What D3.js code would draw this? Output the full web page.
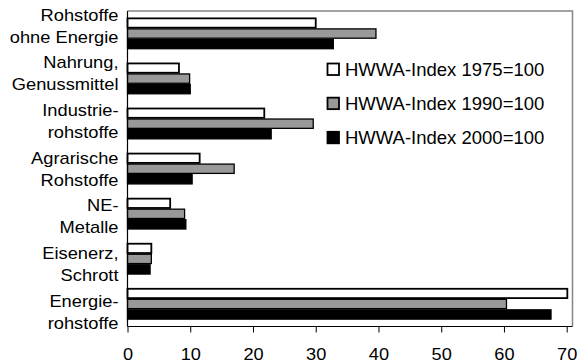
<!DOCTYPE html>
<html>
<head>
<meta charset="utf-8">
<script src="https://cdn.jsdelivr.net/npm/d3@7"></script>
<style>
  html, body { margin: 0; padding: 0; background: #fff; }
  svg { display: block; font-family: "Liberation Sans", Arial, Helvetica, sans-serif; }
</style>
</head>
<body>
<svg id="chart" width="577" height="363"></svg>
<script>
const categories = [
  ["Rohstoffe", "ohne Energie"],
  ["Nahrung,", "Genussmittel"],
  ["Industrie-", "rohstoffe"],
  ["Agrarische", "Rohstoffe"],
  ["NE-", "Metalle"],
  ["Eisenerz,", "Schrott"],
  ["Energie-", "rohstoffe"]
];
const seriesNames = ["HWWA-Index 1975=100", "HWWA-Index 1990=100", "HWWA-Index 2000=100"];
const index1975 = [30.0, 8.2, 21.8, 11.5, 6.8, 3.8, 70.1];
const index1990 = [39.6, 9.9, 29.6, 17.0, 9.1, 3.8, 60.4];
const index2000 = [32.8, 10.0, 22.9, 10.3, 9.3, 3.6, 67.5];
const xTicks = [0, 10, 20, 30, 40, 50, 60, 70];
const colors = ["#ffffff", "#999999", "#000000"];

(function () {
const series = [index1975, index1990, index2000];
const catKeys = categories.map(c => c.join(" "));

const svg = d3.select("#chart");
const pLeft = 127.5, pRight = 572.5, pTop = 11, pBottom = 326.5;

const x = d3.scaleLinear().domain([0, 70]).range([pLeft, 566.7]);
const y = d3.scaleBand().domain(catKeys).range([pTop, pBottom]).paddingInner(0.3).paddingOuter(0.15);
const ySub = d3.scaleBand().domain(d3.range(series.length)).range([0, y.bandwidth()]);
const labelY = d3.scalePoint().domain(catKeys).range([20.7, 306.7]);

// plot frame (top/right gray)
svg.append("path")
  .attr("d", `M${pLeft},${pTop}H${pRight}V${pBottom}`)
  .attr("fill", "none").attr("stroke", "#858585").attr("stroke-width", 1.5);

// bars
series.forEach((vals, si) => {
  svg.append("g").selectAll("rect")
    .data(vals)
    .join("rect")
    .attr("x", x(0))
    .attr("y", (d, i) => y(catKeys[i]) + ySub(si) + 0.6)
    .attr("width", d => x(d) - x(0))
    .attr("height", ySub.bandwidth() - 1.2)
    .attr("fill", colors[si])
    .attr("stroke", "#000")
    .attr("stroke-width", si === 0 ? 1.8 : 1.3);
});

// bottom axis
const xAxis = svg.append("g")
  .attr("transform", `translate(0,${pBottom})`)
  .call(d3.axisBottom(x).tickValues(xTicks).tickSize(6).tickPadding(15).tickSizeOuter(0));
xAxis.select(".domain").attr("d", `M${pLeft},0H${pRight}`).attr("stroke", "#000");
xAxis.selectAll(".tick line").attr("stroke", "#000");
xAxis.selectAll(".tick text")
  .attr("font-size", "17px")
  .attr("font-family", "Liberation Sans, Arial, sans-serif")
  .attr("fill", "#000")
  .attr("transform", "scale(1.07,1)");

// left axis line
svg.append("line")
  .attr("x1", pLeft).attr("x2", pLeft).attr("y1", pTop).attr("y2", pBottom)
  .attr("stroke", "#000").attr("stroke-width", 1.2);

// category labels
const lab = svg.append("g").attr("font-size", "16.2px").attr("text-anchor", "end");
categories.forEach((lines, i) => {
  const t = lab.append("text")
    .attr("transform", `translate(118.5,${labelY(catKeys[i])}) scale(1.13,1)`);
  lines.forEach((ln, j) => {
    t.append("tspan").attr("x", 0).attr("dy", j === 0 ? 0 : 22).text(ln);
  });
});

// legend
const legendY = d3.scalePoint().domain(seriesNames).range([76, 144.3]);
const lg = svg.append("g");
seriesNames.forEach((name, i) => {
  const by = legendY(name);
  lg.append("rect")
    .attr("x", 327.5).attr("y", by - 12.5)
    .attr("width", 11.5).attr("height", 11.5)
    .attr("fill", colors[i]).attr("stroke", "#000").attr("stroke-width", 1.8);
  lg.append("text")
    .attr("x", 345).attr("y", by)
    .attr("font-size", "18.5px")
    .text(name);
});
})();
</script>
</body>
</html>
